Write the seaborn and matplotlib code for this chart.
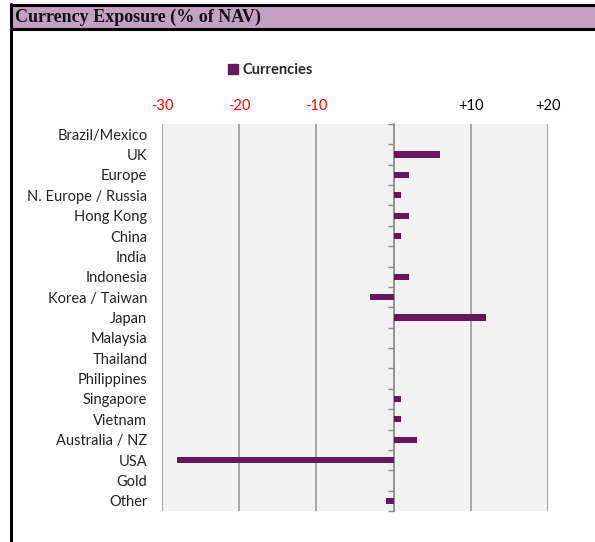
import numpy as np
import pandas as pd
import matplotlib
matplotlib.use("Agg")
import matplotlib.pyplot as plt
import seaborn as sns
from matplotlib.patches import Rectangle
from matplotlib.lines import Line2D

# data
regions = ["Brazil/Mexico", "UK", "Europe", "N. Europe / Russia", "Hong Kong",
           "China", "India", "Indonesia", "Korea / Taiwan", "Japan", "Malaysia",
           "Thailand", "Philippines", "Singapore", "Vietnam", "Australia / NZ",
           "USA", "Gold", "Other"]
exposure = [0, 6, 2, 1, 2, 1, 0, 2, -3, 12, 0, 0, 0, 1, 1, 3, -28, 0, -1]
xticks = [-30, -20, -10, 0, 10, 20]
xtick_labels = ["-30", "-20", "-10", "", "+10", "+20"]
xtick_colors = ["red", "red", "red", "black", "black", "black"]

BAR = "#68175F"
GRID = "#A0A0A0"

df = pd.DataFrame({"region": regions, "exposure": exposure})

sns.set_theme(style="white")
plt.rcParams["font.family"] = ["Lato", "DejaVu Sans"]

fig = plt.figure(figsize=(5.95, 5.42), dpi=100)
ax = fig.add_axes([162 / 595, 31 / 542, 386 / 595, 387 / 542])
ax.set_facecolor("#F2F2F2")

sns.barplot(data=df, x="exposure", y="region", orient="h", color=BAR,
            width=0.3, linewidth=0, saturation=1, ax=ax)

ax.set_xlim(-30, 20)
ax.set_ylim(len(regions) - 0.5, -0.5)
for s in ax.spines.values():
    s.set_visible(False)

# gridlines
for v in xticks:
    if v != 0:
        ax.axvline(v, color=GRID, lw=1.3, zorder=0)

ax.xaxis.tick_top()
ax.set_xticks(xticks)
ax.set_xticklabels(xtick_labels, fontsize=10.5)
for lbl, c in zip(ax.get_xticklabels(), xtick_colors):
    lbl.set_color(c)
ax.tick_params(axis="x", length=0, pad=8)
ax.set_xlabel("")
ax.set_ylabel("")
ax.tick_params(axis="y", length=0, pad=10.5, labelsize=10.5, labelcolor="#222222")

# zero axis with category tick marks
zero_ax = ax.secondary_yaxis(30 / 50)
zero_ax.yaxis.set_ticks_position("left")
zero_ax.set_yticks(np.arange(len(regions) + 1) - 0.5)
zero_ax.set_yticklabels([])
zero_ax.spines["left"].set_visible(True)
zero_ax.spines["left"].set_color("#8C8C8C")
zero_ax.spines["left"].set_linewidth(1.3)
zero_ax.spines["right"].set_visible(False)
zero_ax.tick_params(axis="y", length=4, width=1, color="#8C8C8C", direction="out")

# legend
handle = Line2D([], [], marker="s", ls="", color=BAR, markersize=7)
fig.legend([handle], ["Currencies"], loc="center", bbox_to_anchor=(270 / 595, 1 - 70 / 542),
           frameon=False, handletextpad=0.2, handlelength=0.8,
           prop={"family": "Lato", "weight": "bold", "size": 10.5})

# header band and frame
fig.patches.append(Rectangle((11 / 595, 1 - 29 / 542), 1, 24 / 542, transform=fig.transFigure,
                             facecolor="#C4A1C2", edgecolor="none", zorder=0))
fig.lines.append(Line2D([11 / 595, 1], [1 - 5 / 542, 1 - 5 / 542], transform=fig.transFigure,
                        color="black", lw=2.2))
fig.lines.append(Line2D([11 / 595, 1], [1 - 29 / 542, 1 - 29 / 542], transform=fig.transFigure,
                        color="black", lw=2.2))
fig.lines.append(Line2D([11 / 595, 11 / 595], [0, 1 - 4 / 542], transform=fig.transFigure,
                        color="black", lw=2.2))
fig.text(15 / 595, 1 - 17 / 542, "Currency Exposure (% of NAV)", va="center", ha="left",
         fontsize=13, fontweight="bold", family="Liberation Serif", color="#111111")

fig.savefig("out.png", dpi=100, facecolor="white")
